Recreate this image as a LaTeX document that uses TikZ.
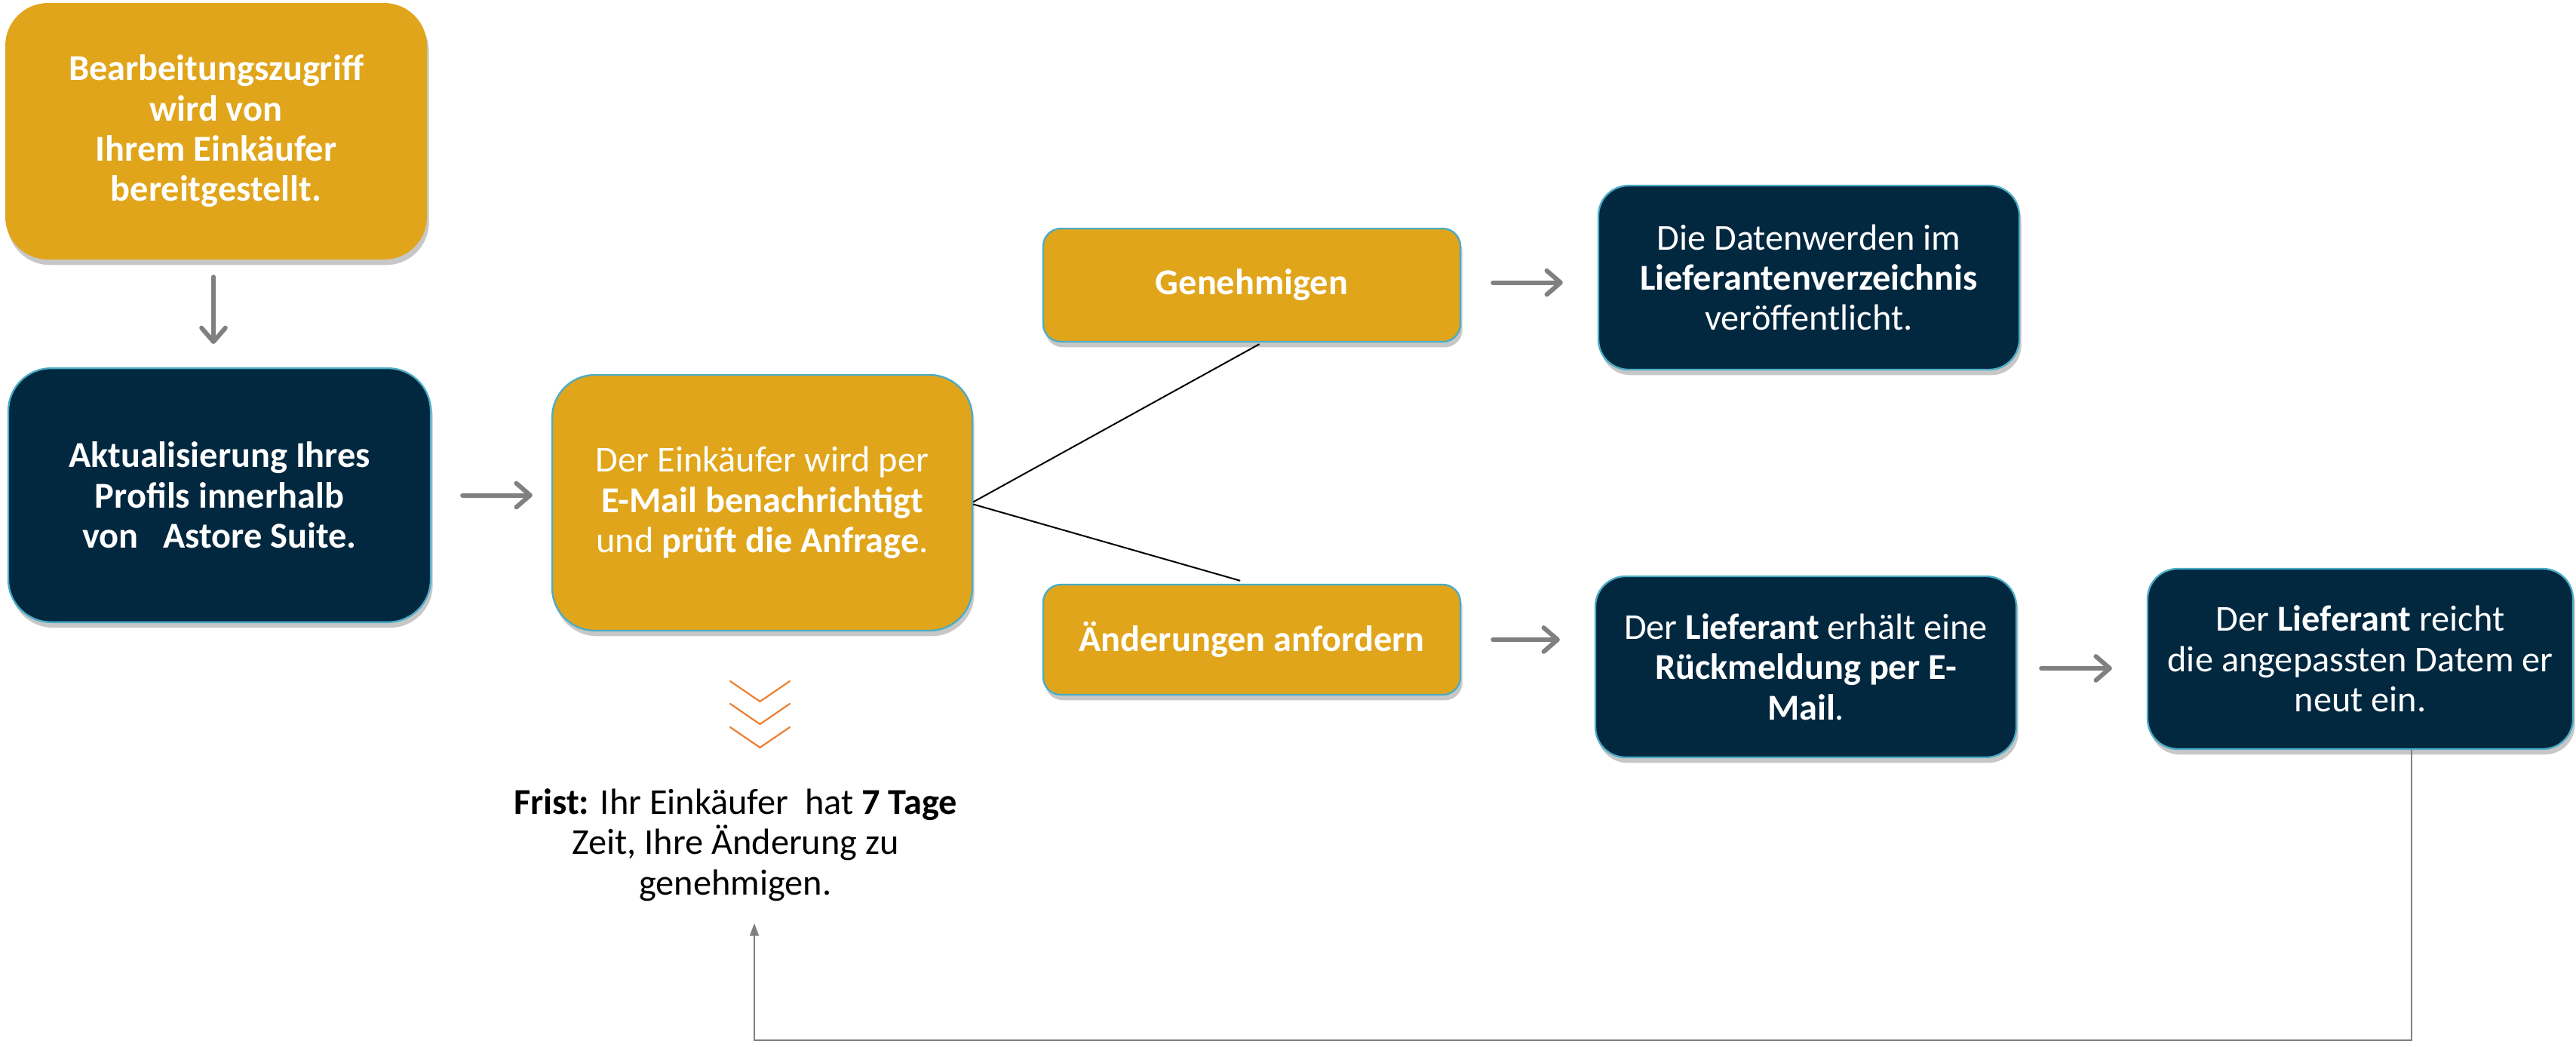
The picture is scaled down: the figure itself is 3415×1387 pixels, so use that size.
\documentclass[tikz,border=0pt]{standalone}
\usepackage{fontspec}
\setmainfont{Carlito}
\usetikzlibrary{arrows.meta,shadows,calc}
\definecolor{gold}{RGB}{224,165,26}
\definecolor{navy}{RGB}{2,40,64}
\definecolor{edgeblue}{RGB}{75,172,198}
\definecolor{arrgray}{RGB}{128,128,128}
\definecolor{chev}{RGB}{237,125,49}
\begin{document}
\begin{tikzpicture}[x=0.3pt,y=-0.3pt,
  boxbase/.style={text=white, align=center, inner sep=0pt,
    font=\fontsize{14.5}{16}\selectfont,
    drop shadow={shadow xshift=0.8pt, shadow yshift=-2.2pt, fill=black, opacity=0.22}},
  goldbox/.style={boxbase, fill=gold, draw=edgeblue, line width=0.7pt},
  navybox/.style={boxbase, fill=navy, draw=edgeblue, line width=0.7pt},
  bigr/.style={rounded corners=17pt},
  midr/.style={rounded corners=12pt},
  smallr/.style={rounded corners=7pt},
  garrow/.style={draw=arrgray, line width=1.8pt, line cap=round,
    -{Straight Barb[length=5.5pt,width=9.5pt,round]}},
  blackline/.style={draw=black, line width=0.6pt},
  loopline/.style={draw=arrgray, line width=0.6pt, -{Triangle[length=5pt,width=3.6pt]}},
  chevline/.style={draw=chev, line width=0.65pt, line cap=round}
]
\useasboundingbox (0,0) rectangle (3415,1387);

\node[goldbox, bigr, draw=none, minimum width=167.7pt, minimum height=102pt, font=\fontsize{14.5}{16}\selectfont\bfseries]
  (b1) at (286.5,174) {Bearbeitungszugriff\\wird von\\Ihrem Einkäufer\\bereitgestellt.};
\node[navybox, bigr, minimum width=168pt, minimum height=101pt, font=\fontsize{14.5}{16}\selectfont\bfseries]
  (b2) at (291,656.5) {Aktualisierung Ihres\\Profils innerhalb\\von \ \ Astore Suite.};
\node[goldbox, bigr, minimum width=167.1pt, minimum height=101.7pt]
  (b3) at (1010.5,666.5) {Der Einkäufer wird per\\\textbf{E-Mail benachrichtigt}\\und \textbf{prüft die Anfrage}.};
\node[goldbox, smallr, minimum width=165.9pt, minimum height=45pt]
  (gen) at (1659.5,378) {\textbf{Genehmigen}};
\node[navybox, midr, minimum width=167.4pt, minimum height=73.2pt]
  (dat) at (2398,368) {Die Datenwerden im\\\textbf{Lieferantenverzeichnis}\\veröffentlicht.};
\node[goldbox, smallr, minimum width=165.9pt, minimum height=43.8pt]
  (aend) at (1659.5,848) {\textbf{Änderungen anfordern}};
\node[navybox, midr, minimum width=167.4pt, minimum height=72pt]
  (erh) at (2394,884) {Der \textbf{Lieferant} erhält eine\\\textbf{Rückmeldung per E-}\\\textbf{Mail}.};
\node[navybox, midr, minimum width=169.2pt, minimum height=71.7pt]
  (rei) at (3129,873.5) {Der \textbf{Lieferant} reicht\\die angepassten Datem er\\neut ein.};

\node[align=center, inner sep=0pt, font=\fontsize{14.5}{16}\selectfont]
  (frist) at (975,1120) {\textbf{Frist:} Ihr Einkäufer\ \ hat \textbf{7 Tage}\\Zeit, Ihre Änderung zu\\genehmigen.};

% arrows
\draw[garrow] ([yshift=-6.6pt]b1.south -| 283,0) -- ([yshift=9.3pt]b2.north -| 283,0);
\draw[garrow] ([xshift=12.3pt]b2.east) -- ([xshift=-7.5pt]b2.east -| b3.west);
\draw[garrow] ([xshift=12.6pt,yshift=1pt]gen.east) -- ([xshift=-13.8pt,yshift=1pt]gen.east -| dat.west);
\draw[garrow] ([xshift=12.6pt]aend.east) -- ([xshift=-13.8pt]aend.east -| erh.west);
\draw[garrow] ([xshift=9.6pt,yshift=-0.6pt]erh.east) -- ([xshift=-13.8pt,yshift=-0.6pt]erh.east -| rei.west);

% branch lines
\draw[blackline] ([yshift=0.3pt]b3.east) -- ([xshift=3pt,yshift=-0.6pt]gen.south);
\draw[blackline] ([yshift=-0.6pt]b3.east) -- ([xshift=-4.6pt,yshift=1.2pt]aend.north);

% chevrons
\foreach \yy in {903,933,964}{
  \draw[chevline] (968,\yy) -- (1007.5,\yy+27) -- (1047,\yy);
}

% loop back
\coordinate (lc) at (1000,1379);
\coordinate (ftip) at (1000,1224);
\draw[loopline] ([xshift=20.4pt]rei.south) |- (lc) -- (ftip);
\end{tikzpicture}
\end{document}
